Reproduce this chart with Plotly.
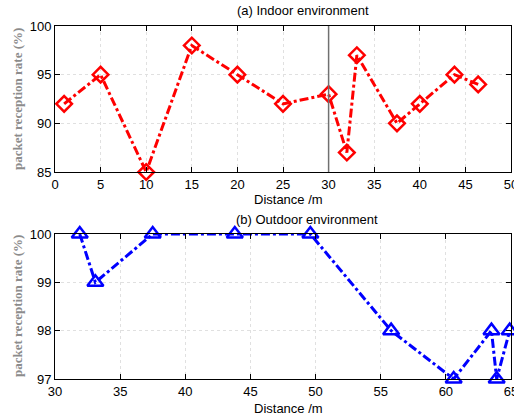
import plotly.graph_objects as go

indoor_x = [1, 5, 10, 15, 20, 25, 30, 32, 33.1, 37.5, 40, 43.8, 46.4]
indoor_y = [92, 95, 85, 98, 95, 92, 93, 87, 97, 90, 92, 95, 94]
outdoor_x = [31.9, 33.1, 37.5, 43.8, 49.6, 55.8, 60.6, 63.5, 63.9, 64.9]
outdoor_y = [100, 99, 100, 100, 100, 98, 97, 98, 97, 98]

W, H = 514, 419
fig = go.Figure()
fig.add_trace(go.Scatter(x=indoor_x, y=indoor_y, mode="lines+markers", xaxis="x", yaxis="y",
                         line=dict(color="#ff0000", width=3, dash="dashdot"),
                         marker=dict(symbol="diamond-open", size=12, color="#ff0000", line=dict(width=2.5, color="#ff0000")),
                         showlegend=False, cliponaxis=False))
fig.add_trace(go.Scatter(x=outdoor_x, y=outdoor_y, mode="lines+markers", xaxis="x2", yaxis="y2",
                         line=dict(color="#0000ff", width=3, dash="dashdot"),
                         marker=dict(symbol="triangle-up-open", size=14, color="#0000ff", line=dict(width=2.5, color="#0000ff")),
                         showlegend=False, cliponaxis=False))

tickfont = dict(family="Liberation Sans, Arial", size=13, color="black")
axcommon = dict(showline=True, linecolor="black", linewidth=1, mirror="ticks", ticks="inside", ticklen=5,
                tickcolor="black", showgrid=True, gridcolor="#e0e0e0", griddash="dot", gridwidth=1,
                zeroline=False, tickfont=tickfont, automargin=False, ticklabeloverflow="allow")

x0, x1 = 55 / W, 511 / W
fig.update_layout(
    width=W, height=H, margin=dict(l=0, r=0, t=0, b=0, autoexpand=False),
    paper_bgcolor="white", plot_bgcolor="white",
    xaxis=dict(domain=[x0, x1], range=[0, 50], dtick=5, anchor="y", **axcommon),
    yaxis=dict(domain=[1 - 172 / H, 1 - 26 / H], range=[85, 100], dtick=5, anchor="x", **axcommon),
    xaxis2=dict(domain=[x0, x1], range=[30, 65], dtick=5, anchor="y2", **axcommon),
    yaxis2=dict(domain=[1 - 379 / H, 1 - 234 / H], range=[97, 100], dtick=1, anchor="x2", **axcommon),
)

fig.add_shape(type="line", xref="x", yref="y", x0=30, x1=30, y0=85, y1=100,
              line=dict(color="#707070", width=1.5))

lab = dict(family="Liberation Sans, Arial", size=13, color="black")
def a(text, px, py, font, angle=0):
    return dict(text=text, x=px / W, y=1 - py / H, xref="paper", yref="paper", showarrow=False,
                xanchor="center", yanchor="middle", font=font, textangle=angle)

ylab = dict(family="Liberation Serif, Times New Roman", size=13, color="#8c8c8c")
ann = [
    a("(a) Indoor environment", 303, 10, lab),
    a("Distance /m", 288, 200, lab),
    a("(b) Outdoor environment", 307, 219, lab),
    a("Distance /m", 288, 408, lab),
    a("<b>packet reception rate (%)</b>", 17, 99, ylab, -90),
    a("<b>packet reception rate (%)</b>", 17, 306, ylab, -90),
]
fig.update_layout(annotations=ann)

fig.write_html("out.html", config={"displayModeBar": False},
               post_script="document.body.style.margin='0';")
